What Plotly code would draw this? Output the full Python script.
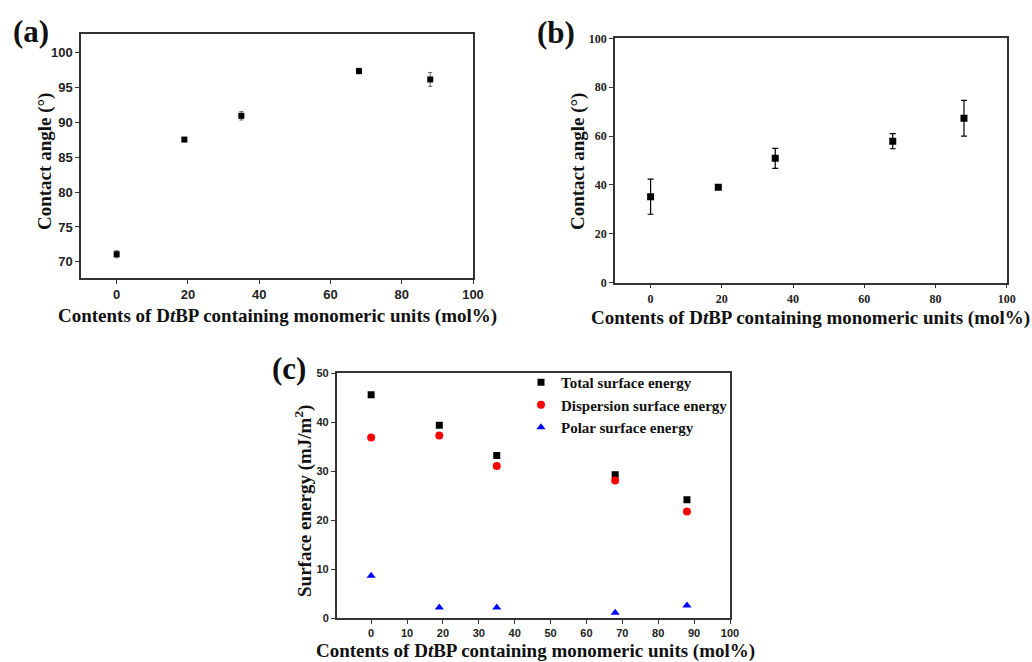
import plotly.graph_objects as go

# ---------- data ----------
contents = [0, 19, 35, 68, 88]

# (a) contact angle
angle_a = [71.1, 87.5, 90.9, 97.3, 96.1]
angle_a_err = [0.5, 0.3, 0.6, 0.4, 1.0]

# (b) contact angle
angle_b = [35.2, 39.1, 50.9, 57.9, 67.3]
angle_b_err = [7.2, 0.5, 4.1, 3.1, 7.3]

# (c) surface energies
total_energy = [45.6, 39.4, 33.2, 29.3, 24.2]
dispersion_energy = [36.9, 37.3, 31.1, 28.1, 21.8]
polar_energy = [8.7, 2.2, 2.2, 1.15, 2.6]

a_ticks = [0, 20, 40, 60, 80, 100]
c_ticks = [0, 10, 20, 30, 40, 50, 60, 70, 80, 90, 100]

SERIF = "Liberation Serif"
SANS = "Liberation Sans"
W, H = 1032, 662


def px(x):
    return x / W


def py(y):
    return 1 - y / H


fig = go.Figure()

fig.add_trace(go.Scatter(
    x=contents, y=angle_a, mode="markers", xaxis="x", yaxis="y",
    marker=dict(symbol="square", size=6, color="black"),
    error_y=dict(type="data", array=angle_a_err, color="#666", thickness=1, width=2),
    showlegend=False))

fig.add_trace(go.Scatter(
    x=contents, y=angle_b, mode="markers", xaxis="x2", yaxis="y2",
    marker=dict(symbol="square", size=7, color="black"),
    error_y=dict(type="data", array=angle_b_err, color="black", thickness=1.2, width=3),
    showlegend=False))

fig.add_trace(go.Scatter(
    x=contents, y=total_energy, mode="markers", xaxis="x3", yaxis="y3",
    name="<b>Total surface energy</b>",
    marker=dict(symbol="square", size=7, color="black")))
fig.add_trace(go.Scatter(
    x=contents, y=dispersion_energy, mode="markers", xaxis="x3", yaxis="y3",
    name="<b>Dispersion surface energy</b>",
    marker=dict(symbol="circle", size=8, color="red")))
fig.add_trace(go.Scatter(
    x=contents, y=polar_energy, mode="markers", xaxis="x3", yaxis="y3",
    name="<b>Polar surface energy</b>",
    marker=dict(symbol="triangle-up", size=8, color="blue")))

axis_common = dict(showline=True, linecolor="#333", linewidth=1.5, mirror=True,
                   ticks="outside", ticklen=4, tickwidth=1, tickcolor="#333",
                   showgrid=False, zeroline=False, automargin=False)

fig.update_layout(
    width=W, height=H,
    margin=dict(l=0, r=0, t=0, b=0, autoexpand=False),
    paper_bgcolor="white", plot_bgcolor="white",
    xaxis=dict(domain=[px(81), px(473)], range=[-10, 100], anchor="y",
               tickvals=a_ticks, tickfont=dict(family=SANS, size=13, color="#222", weight="bold"),
               **axis_common),
    yaxis=dict(domain=[py(278), py(34)], range=[67.7, 102.6], anchor="x",
               tickvals=[70, 75, 80, 85, 90, 95, 100],
               tickfont=dict(family=SANS, size=13, color="#222", weight="bold"),
               **axis_common),
    xaxis2=dict(domain=[px(615), px(1006.7)], range=[-10, 100], anchor="y2",
                tickvals=a_ticks, tickfont=dict(family=SERIF, size=12, color="#222", weight="bold"),
                **axis_common),
    yaxis2=dict(domain=[py(282.7), py(38.3)], range=[0, 100], anchor="x2",
                tickvals=[0, 20, 40, 60, 80, 100],
                tickfont=dict(family=SERIF, size=12, color="#222", weight="bold"),
                **axis_common),
    xaxis3=dict(domain=[px(336.7), px(730)], range=[-9.6, 100], anchor="y3",
                tickvals=c_ticks, tickfont=dict(family=SANS, size=11, color="#222", weight="bold"),
                **axis_common),
    yaxis3=dict(domain=[py(618.3), py(373.3)], range=[0, 50], anchor="x3",
                tickvals=[0, 10, 20, 30, 40, 50],
                tickfont=dict(family=SANS, size=11, color="#222", weight="bold"),
                **axis_common),
    legend=dict(x=px(521), y=py(366), xanchor="left", yanchor="top",
                bgcolor="rgba(0,0,0,0)", font=dict(family=SERIF, size=15, color="#111"),
                tracegroupgap=0, itemwidth=30),
)

xtitle = "<b>Contents of D<i>t</i>BP containing monomeric units (mol%)</b>"
annotations = [
    dict(text=xtitle, x=px(277), y=py(316), size=19),
    dict(text=xtitle, x=px(810), y=py(318), size=19),
    dict(text=xtitle, x=px(535), y=py(651), size=19),
    dict(text="<b>Contact angle (°)</b>", x=px(45), y=py(162), size=19, angle=-90),
    dict(text="<b>Contact angle (°)</b>", x=px(578), y=py(162), size=19, angle=-90),
    dict(text="<b>Surface energy (mJ/m<sup>2</sup>)</b>", x=px(303), y=py(501), size=19, angle=-90),
    dict(text="<b>(a)</b>", x=px(31), y=py(31), size=31),
    dict(text="<b>(b)</b>", x=px(556), y=py(32), size=31),
    dict(text="<b>(c)</b>", x=px(289), y=py(368), size=31),
]
for a in annotations:
    fig.add_annotation(text=a["text"], x=a["x"], y=a["y"], xref="paper", yref="paper",
                       showarrow=False, xanchor="center", yanchor="middle",
                       textangle=a.get("angle", 0),
                       font=dict(family=SERIF, size=a["size"], color="#111"))

fig.write_html("out.html", config={"displayModeBar": False},
               post_script="document.body.style.margin='0';document.body.style.overflow='hidden';")
